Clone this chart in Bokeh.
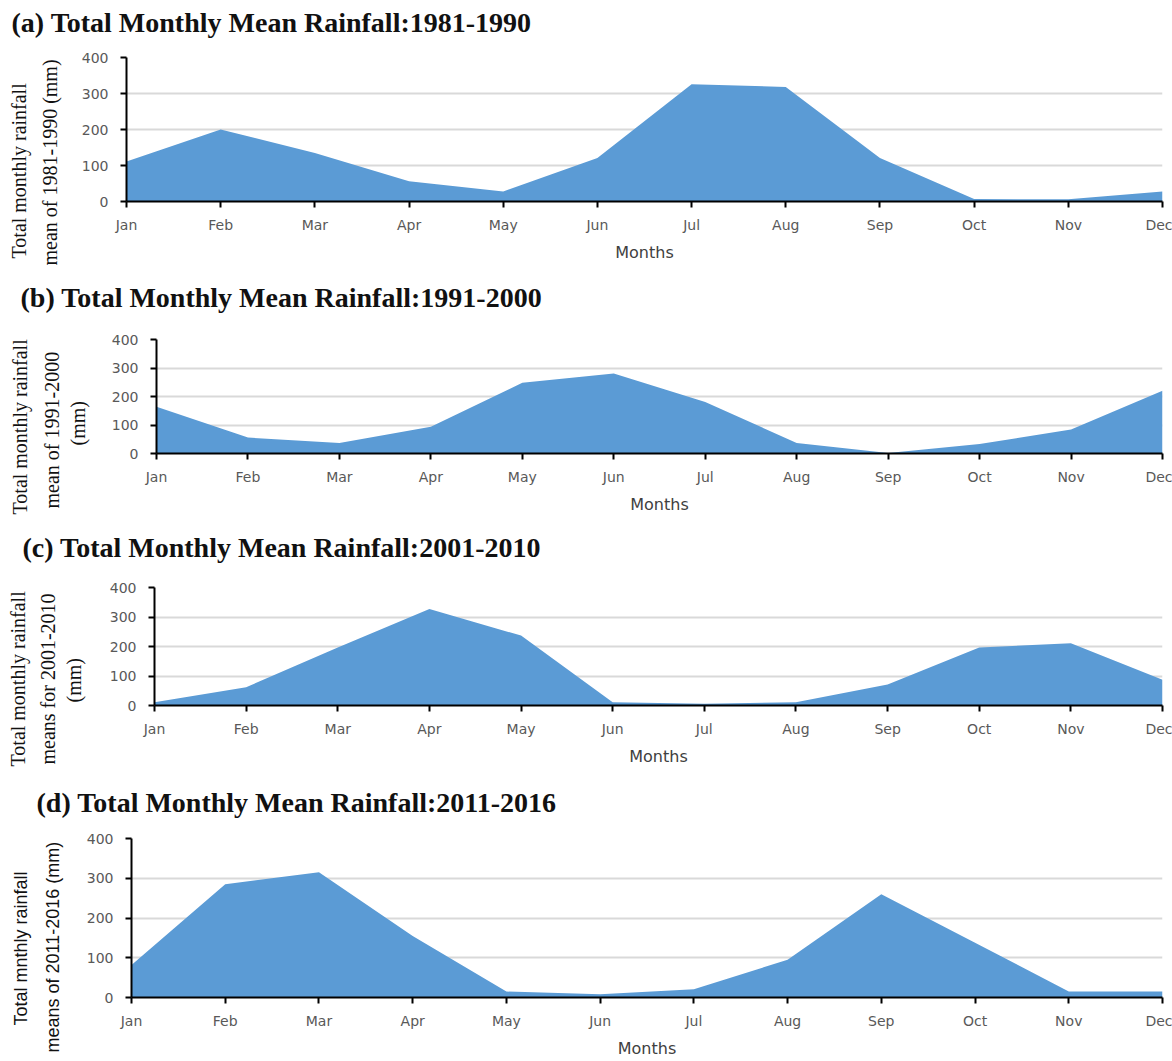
from bokeh.plotting import figure
from bokeh.layouts import column, row
from bokeh.models import Range1d, FixedTicker, Title
from bokeh.embed import file_html
from bokeh.resources import INLINE

months = ["Jan", "Feb", "Mar", "Apr", "May", "Jun", "Jul", "Aug", "Sep", "Oct", "Nov", "Dec"]
rain_1981_1990 = [111, 200, 135, 56, 28, 121, 326, 318, 121, 7, 6, 28]
rain_1991_2000 = [164, 56, 37, 94, 248, 281, 181, 37, 2, 33, 84, 220]
rain_2001_2010 = [11, 62, 197, 327, 237, 11, 6, 11, 71, 197, 211, 87]
rain_2011_2016 = [82, 285, 315, 155, 15, 8, 21, 95, 260, 138, 15, 15]
y_ticks = [0, 100, 200, 300, 400]

titles = [
    "(a) Total Monthly Mean Rainfall:1981-1990",
    "(b) Total Monthly Mean Rainfall:1991-2000",
    "(c) Total Monthly Mean Rainfall:2001-2010",
    "(d) Total Monthly Mean Rainfall:2011-2016",
]
ylabel_lines = [
    ["Total monthly  rainfall", "mean of 1981-1990 (mm)"],
    ["Total monthly rainfall", "mean of 1991-2000", "(mm)"],
    ["Total monthly rainfall", "means for 2001-2010", "(mm)"],
    ["Total mnthly rainfall", "means of 2011-2016 (mm)"],
]
series = [rain_1981_1990, rain_1991_2000, rain_2001_2010, rain_2011_2016]

W = 1172
AXIS_W = 45          # estimated width of the y-axis panel (ticks + labels)
# per-panel layout in pixels
specs = [
    dict(h=267, l=125, r=10, t=57, b=66, toff=-115, tgap=17,
         font="Liberation Serif", fs=20, th=23.6, cx=[23, 53], starts=[258, 265]),
    dict(h=250, l=154, r=10, t=72, b=64, toff=-136, tgap=24,
         font="Liberation Serif", fs=20, th=23.6, cx=[23, 55, 80], starts=[514, 508, 445]),
    dict(h=255, l=154, r=10, t=70, b=67, toff=-132, tgap=22,
         font="Liberation Serif", fs=20, th=23.6, cx=[23, 53, 78], starts=[766, 764, 702]),
    dict(h=288, l=128, r=10, t=66, b=60, toff=-95, tgap=18,
         font="Liberation Sans", fs=18, th=20.5, cx=[25, 55], starts=[1028, 1055]),
]
panel_tops = [0]
for s in specs[:-1]:
    panel_tops.append(panel_tops[-1] + s["h"])


def spacer(size):
    return Title(text=" ", text_font_size="1px", standoff=max(size - 1.2, 0))


rows = []
for i, s in enumerate(specs):
    p = figure(width=W, height=s["h"], output_backend="svg", toolbar_location=None,
               title=None,
               x_range=Range1d(0, 11), y_range=Range1d(0, 400),
               min_border_left=s["l"], min_border_right=s["r"],
               min_border_top=s["t"], min_border_bottom=s["b"])
    p.outline_line_color = None
    p.background_fill_color = "white"
    p.border_fill_color = "white"

    x = list(range(len(months)))
    p.varea(x=x, y1=[0] * len(x), y2=series[i], fill_color="#5b9bd5", fill_alpha=1.0)

    # panel title (a spacer between it and the frame sets the gap)
    p.add_layout(spacer(s["tgap"]), "above")
    p.add_layout(Title(text=titles[i], text_font="Liberation Serif", text_font_style="bold",
                       text_font_size="28px", text_color="#111111", align="left",
                       vertical_align="middle", offset=s["toff"], standoff=0), "above")

    # x axis
    xa = p.xaxis[0]
    xa.ticker = FixedTicker(ticks=x)
    xa.major_label_overrides = {k: m for k, m in enumerate(months)}
    xa.major_label_text_font = "DejaVu Sans"
    xa.major_label_text_font_size = "14px"
    xa.major_label_text_color = "#595959"
    xa.major_label_standoff = 9
    xa.major_tick_out = 6
    xa.major_tick_in = 0
    xa.major_tick_line_width = 2
    xa.minor_tick_line_color = None
    xa.axis_line_width = 2
    xa.axis_line_color = "black"
    xa.axis_label = "Months"
    xa.axis_label_text_font = "DejaVu Sans"
    xa.axis_label_text_font_style = "normal"
    xa.axis_label_text_font_size = "16px"
    xa.axis_label_text_color = "#404040"
    xa.axis_label_standoff = 7

    # y axis
    ya = p.yaxis[0]
    ya.ticker = FixedTicker(ticks=y_ticks)
    ya.major_label_text_font = "DejaVu Sans"
    ya.major_label_text_font_size = "14px"
    ya.major_label_text_color = "#595959"
    ya.major_label_standoff = 12
    ya.major_tick_out = 6
    ya.major_tick_in = 0
    ya.major_tick_line_width = 2
    ya.minor_tick_line_color = None
    ya.axis_line_width = 2
    ya.axis_line_color = "black"

    # y-axis title: one rotated Title per line, stacked outward from the axis
    lines = ylabel_lines[i]
    th = s["th"]
    frame_bottom = panel_tops[i] + s["h"] - s["b"]
    n = len(lines)
    widths = [0.0] * n
    rights = [0.0] * n
    rights[-1] = s["cx"][-1] + th / 2
    widths[-1] = th
    for k in range(n - 2, -1, -1):
        rights[k] = rights[k + 1] - widths[k + 1]
        widths[k] = max(2 * (rights[k] - s["cx"][k]), th)
    gap = (s["l"] - AXIS_W) - rights[-1]
    p.add_layout(spacer(gap), "left")
    for k in range(n - 1, -1, -1):
        p.add_layout(Title(text=lines[k], text_font=s["font"], text_font_size=f"{s['fs']}px",
                           text_font_style="normal", text_color="#111111",
                           align="left", vertical_align="middle",
                           offset=frame_bottom - s["starts"][k],
                           standoff=widths[k] - th), "left")

    p.xgrid.grid_line_color = None
    p.ygrid.grid_line_color = "#d9d9d9"
    p.ygrid.grid_line_width = 2
    p.ygrid.ticker = FixedTicker(ticks=y_ticks)

    rows.append(row(p))

layout = column(*rows, spacing=0)
open("out.html", "w").write(file_html(layout, INLINE))
